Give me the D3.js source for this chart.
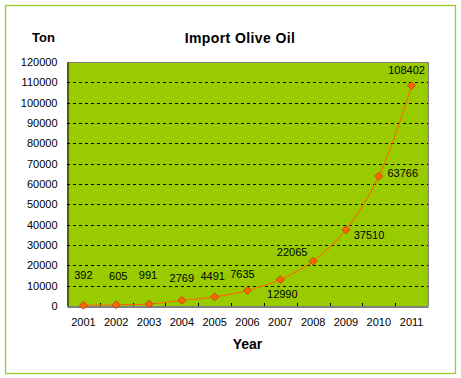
<!DOCTYPE html>
<html lang="en">
<head>
    <meta charset="UTF-8">
    <title>Import Olive Oil</title>
    <script src="https://cdn.jsdelivr.net/npm/d3@7"></script>
</head>
<style>
    body { margin: 0; background: #fff; }
    text { font-family: "Liberation Sans", Arial, sans-serif; }
</style>
<body>
</body>
<script>
    // data
    var years = ["2001", "2002", "2003", "2004", "2005", "2006", "2007", "2008", "2009", "2010", "2011"];
    var tons = [392, 605, 991, 2769, 4491, 7635, 12990, 22065, 37510, 63766, 108402];
    var yTicks = [0, 10000, 20000, 30000, 40000, 50000, 60000, 70000, 80000, 90000, 100000, 110000, 120000];

    // where each value label sits relative to its point (pixels)
    var labelOffset = [[0, -30], [2, -29], [-1, -29], [0, -22], [-2, -21], [-5, -16],
                       [2, 14], [-21, -9], [23, 5], [24, -3], [-5, -16]];

    var w = 461, h = 378;
    var plotL = 67, plotR = 428, plotT = 62, plotB = 306;

    var svg = d3.select("body").append("svg")
            .attr("width", w)
            .attr("height", h);

    // outer frame
    svg.append("rect")
            .attr("x", 5.5).attr("y", 5.5)
            .attr("width", 450).attr("height", 368)
            .attr("fill", "#fff")
            .attr("stroke", "#99cc33")
            .attr("stroke-width", 1.3);

    var x = d3.scaleBand().domain(years).range([plotL, plotR]);
    var y = d3.scaleLinear().domain([0, 120000]).range([plotB, plotT]);

    // plot area
    svg.append("rect")
            .attr("x", plotL).attr("y", plotT)
            .attr("width", plotR - plotL).attr("height", plotB - plotT)
            .attr("fill", "#99cc00");
    svg.append("path")
            .attr("d", "M" + plotL + "," + (plotT + 0.5) + "H" + (plotR + 0.5) + "V" + plotB)
            .attr("fill", "none")
            .attr("stroke", "#808080");

    // dashed grid
    svg.selectAll("line.grid")
            .data(yTicks.slice(1, -1))
            .enter()
            .append("line")
            .attr("class", "grid")
            .attr("x1", plotL).attr("x2", plotR)
            .attr("y1", function (d) { return Math.round(y(d)) + 0.5; })
            .attr("y2", function (d) { return Math.round(y(d)) + 0.5; })
            .attr("stroke", "#000")
            .attr("stroke-dasharray", "3,3");

    // y axis
    var yAxis = d3.axisLeft(y).tickValues(yTicks).tickSize(0).tickPadding(10)
            .tickFormat(d3.format("d"));
    var gy = svg.append("g")
            .attr("transform", "translate(" + (plotL + 0.5) + ",0)")
            .call(yAxis);
    gy.select(".domain").attr("stroke", "#000");
    gy.selectAll("text").attr("font-size", "11px").attr("fill", "#000")
            .attr("font-family", "Liberation Sans, Arial, sans-serif");

    // x axis
    var xAxis = d3.axisBottom(x).tickSize(0).tickPadding(12);
    var gx = svg.append("g")
            .attr("transform", "translate(0," + (plotB + 0.5) + ")")
            .call(xAxis);
    gx.select(".domain").attr("stroke", "#000");
    gx.selectAll("text").attr("font-size", "11px").attr("fill", "#000")
            .attr("font-family", "Liberation Sans, Arial, sans-serif");

    // small inside ticks between categories
    svg.selectAll("line.xtick")
            .data(years.slice(1))
            .enter()
            .append("line")
            .attr("class", "xtick")
            .attr("x1", function (d) { return Math.round(x(d)) + 0.5; })
            .attr("x2", function (d) { return Math.round(x(d)) + 0.5; })
            .attr("y1", plotB).attr("y2", plotB - 3)
            .attr("stroke", "#000");

    // line
    var line = d3.line()
            .x(function (d, i) { return x(years[i]) + x.bandwidth() / 2; })
            .y(function (d) { return y(d); })
            .curve(d3.curveCatmullRom.alpha(0.5));
    svg.append("path")
            .datum(tons)
            .attr("d", line)
            .attr("fill", "none")
            .attr("stroke", "#ff6600")
            .attr("stroke-width", 1.1);

    // diamond markers
    svg.selectAll("path.mark")
            .data(tons)
            .enter()
            .append("path")
            .attr("class", "mark")
            .attr("d", d3.symbol().type(d3.symbolDiamond2).size(40))
            .attr("transform", function (d, i) {
                return "translate(" + (x(years[i]) + x.bandwidth() / 2) + "," + y(d) + ")";
            })
            .attr("fill", "#ff6600")
            .attr("stroke", "#b83a00")
            .attr("stroke-width", 0.8);

    // value labels
    svg.selectAll("text.val")
            .data(tons)
            .enter()
            .append("text")
            .attr("class", "val")
            .text(function (d) { return d; })
            .attr("x", function (d, i) { return x(years[i]) + x.bandwidth() / 2 + labelOffset[i][0]; })
            .attr("y", function (d, i) { return y(d) + labelOffset[i][1] + 4; })
            .attr("font-size", "11px")
            .attr("fill", "#000")
            .attr("text-anchor", "middle");

    // titles
    svg.append("text")
            .text("Import Olive Oil")
            .attr("x", 240).attr("y", 43)
            .attr("font-size", "14px").attr("font-weight", "bold")
            .attr("letter-spacing", "0.4px")
            .attr("text-anchor", "middle");
    svg.append("text")
            .text("Ton")
            .attr("x", 43.5).attr("y", 42)
            .attr("font-size", "13px").attr("font-weight", "bold")
            .attr("text-anchor", "middle");
    svg.append("text")
            .text("Year")
            .attr("x", 247.5).attr("y", 349)
            .attr("font-size", "14px").attr("font-weight", "bold")
            .attr("text-anchor", "middle");
</script>
</html>
